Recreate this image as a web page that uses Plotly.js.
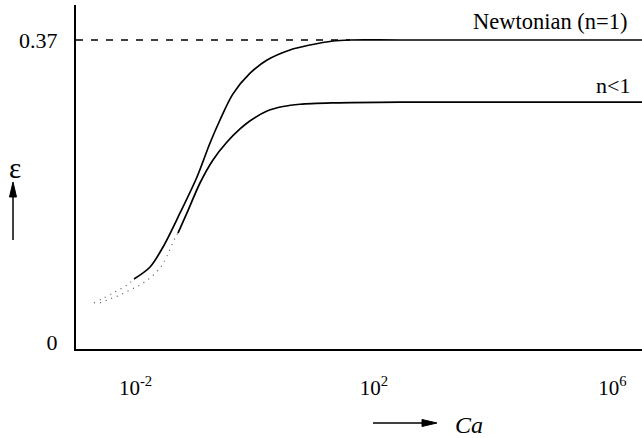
<!DOCTYPE html>
<html>
<head>
<meta charset="utf-8">
<script src="https://cdn.plot.ly/plotly-3.0.1.min.js"></script>
<style>html,body{margin:0;padding:0;background:#fff;}#chart{width:642px;height:438px;}</style>
</head>
<body>
<div id="chart"></div>
<script>
// Capillary number Ca (log axis) and strain epsilon readings
const newtDottedCa = [0.00243, 0.00507, 0.00871, 0.0114];
const newtDottedEps = [0.0478, 0.0600, 0.0698, 0.0772];

const newtCa = [0.0114, 0.0212, 0.035, 0.0675, 0.130, 0.215, 0.316, 0.522, 1.0, 1.95, 4.72, 10.2, 24.9, 48, 331, 1e7];
const newtEps = [0.0772, 0.0919, 0.1164, 0.1581, 0.2022, 0.2438, 0.2720, 0.3040, 0.3290, 0.3455, 0.3578, 0.3639, 0.3688, 0.37, 0.37, 0.37];

const powDottedCa = [0.00307, 0.00451, 0.00664, 0.00977, 0.0144, 0.0212, 0.0311, 0.0408, 0.0556, 0.0624];
const powDottedEps = [0.0478, 0.0527, 0.0576, 0.0637, 0.0698, 0.0784, 0.0907, 0.1054, 0.1274, 0.1335];

const powCa = [0.0624, 0.0883, 0.146, 0.241, 0.414, 0.685, 1.0, 1.95, 3.6, 6.95, 24.9, 331, 1e7];
const powEps = [0.1335, 0.1581, 0.1948, 0.2230, 0.2450, 0.2610, 0.2708, 0.2830, 0.2885, 0.2913, 0.2930, 0.2940, 0.2940];

const asymptote = 0.37;
const asymptoteEndCa = 48;

const xTickVals = [0.01, 100, 1e6];
const xTickText = ['10<sup>-2</sup>', '10<sup>2</sup>', '10<sup>6</sup>'];
const yTickVals = [0, 0.37];
const yTickText = ['0', '0.37'];

const xRangeLog = [-2.916, 6.58];
const yRange = [-0.0086, 0.4129];

const serif = '"Liberation Serif", "Times New Roman", Times, serif';

const traces = [
  {x: [Math.pow(10, xRangeLog[0]), asymptoteEndCa], y: [asymptote, asymptote], mode: 'lines',
   line: {color: '#000', width: 1.6, dash: '7px,8px'}, hoverinfo: 'skip'},
  {x: newtDottedCa, y: newtDottedEps, mode: 'lines', line: {color: '#555', width: 1.2, dash: '1px,5px', shape: 'spline'}},
  {x: powDottedCa, y: powDottedEps, mode: 'lines', line: {color: '#555', width: 1.2, dash: '1px,5px', shape: 'spline'}},
  {x: newtCa, y: newtEps, mode: 'lines', line: {color: '#000', width: 1.7, shape: 'spline', smoothing: 0.9}},
  {x: powCa, y: powEps, mode: 'lines', line: {color: '#000', width: 1.7, shape: 'spline', smoothing: 0.9}}
];

// arrow glyph geometry (paper coordinates relative to plot area)
const epsArrowShaft = {x: -0.1113, y0: 0.3169, y1: 0.45};
const epsArrowHead = 'M -0.1113,0.4855 L -0.1175,0.4419 L -0.1051,0.4419 Z';
const caArrowShaft = {y: -0.2151, x0: 0.5247, x1: 0.615};
const caArrowHead = 'M 0.6378,-0.2151 L 0.6113,-0.2049 L 0.6113,-0.2253 Z';

const layout = {
  width: 642, height: 438,
  margin: {l: 76, r: 0, t: 5, b: 89},
  paper_bgcolor: '#fff', plot_bgcolor: '#fff',
  showlegend: false,
  font: {family: serif, color: '#000', size: 21},
  xaxis: {
    type: 'log', range: xRangeLog,
    showgrid: false, zeroline: false,
    showline: true, linecolor: '#000', linewidth: 2,
    ticks: '', tickvals: xTickVals, ticktext: xTickText,
    tickfont: {family: serif, size: 21, color: '#000'},
    ticklabelstandoff: 19, ticklabelshift: 5
  },
  yaxis: {
    range: yRange,
    showgrid: false, zeroline: false,
    showline: true, linecolor: '#000', linewidth: 2,
    ticks: '', tickvals: yTickVals, ticktext: yTickText,
    tickfont: {family: serif, size: 22, color: '#000'},
    ticklabelstandoff: 12
  },
  shapes: [
    {type: 'line', xref: 'paper', yref: 'paper', x0: epsArrowShaft.x, x1: epsArrowShaft.x,
     y0: epsArrowShaft.y0, y1: epsArrowShaft.y1, line: {color: '#000', width: 1.5}},
    {type: 'path', xref: 'paper', yref: 'paper', path: epsArrowHead, fillcolor: '#000', line: {color: '#000', width: 1}},
    {type: 'line', xref: 'paper', yref: 'paper', x0: caArrowShaft.x0, x1: caArrowShaft.x1,
     y0: caArrowShaft.y, y1: caArrowShaft.y, line: {color: '#000', width: 1.5}},
    {type: 'path', xref: 'paper', yref: 'paper', path: caArrowHead, fillcolor: '#000', line: {color: '#000', width: 1}}
  ],
  annotations: [
    {text: 'Newtonian (n=1)', xref: 'paper', yref: 'paper', x: 0.979, y: 0.9506,
     xanchor: 'right', yanchor: 'middle', showarrow: false, font: {family: serif, size: 22.5}},
    {text: 'n&lt;1', xref: 'paper', yref: 'paper', x: 0.9823, y: 0.7674,
     xanchor: 'right', yanchor: 'middle', showarrow: false, font: {family: serif, size: 22}},
    {text: 'ε', xref: 'paper', yref: 'paper', x: -0.1078, y: 0.526,
     xanchor: 'center', yanchor: 'middle', showarrow: false, font: {family: serif, size: 29}},
    {text: '<i>Ca</i>', xref: 'paper', yref: 'paper', x: 0.6943, y: -0.2209,
     xanchor: 'center', yanchor: 'middle', showarrow: false, font: {family: serif, size: 24}}
  ]
};

Plotly.newPlot('chart', traces, layout, {displayModeBar: false, staticPlot: true});
</script>
</body>
</html>
